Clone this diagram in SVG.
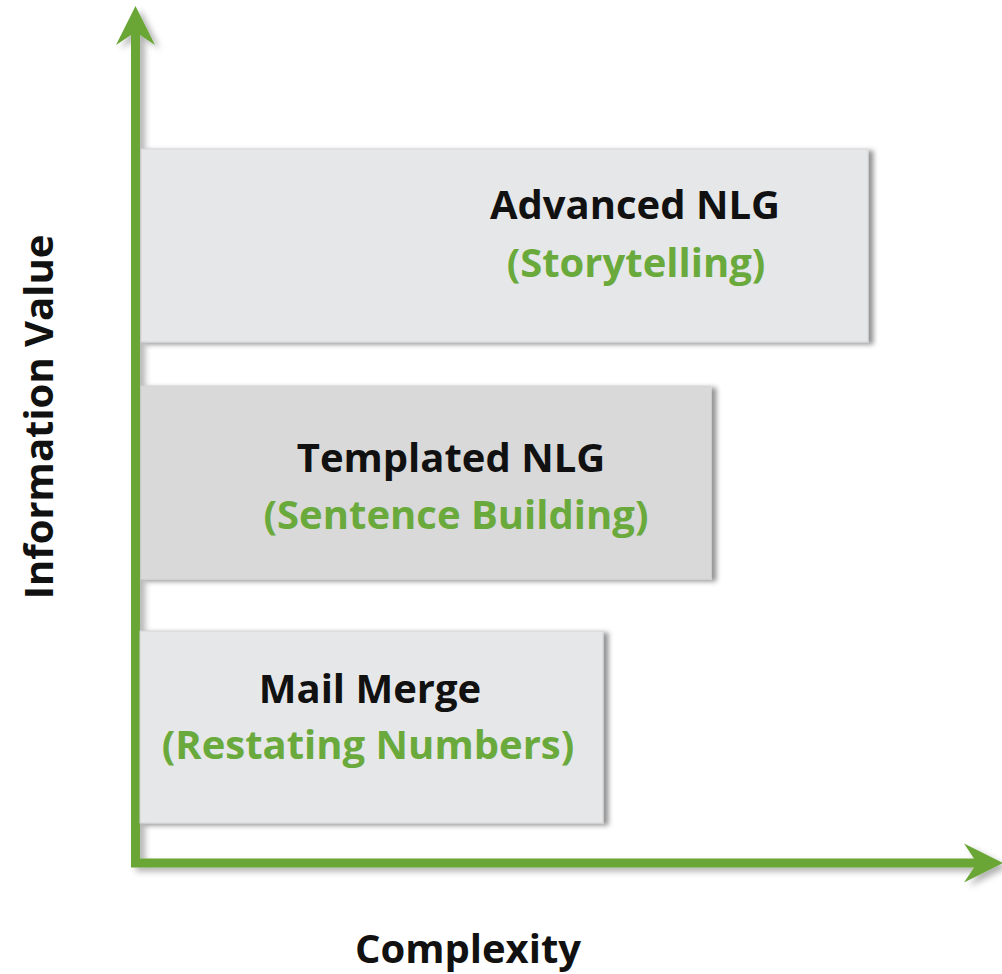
<svg xmlns="http://www.w3.org/2000/svg" width="1002" height="974" viewBox="0 0 1002 974">
  <defs>
    <style>
      .box { stroke: #d3d4d6; stroke-width: 1; }
      .light { fill: #e6e7e9; }
      .dark { fill: #d9d9d9; }
      .title { font-family: "Open Sans", "Liberation Sans", sans-serif; font-weight: 700; font-size: 40px; fill: #111111; text-anchor: middle; }
      .sub { font-family: "Open Sans", "Liberation Sans", sans-serif; font-weight: 700; font-size: 40px; fill: #6aaa3c; text-anchor: middle; }
      .axis { stroke: #6aa634; stroke-width: 9; fill: none; }
      .axis-label { font-family: "Open Sans", "Liberation Sans", sans-serif; font-weight: 700; font-size: 40px; fill: #111111; text-anchor: middle; }
    </style>
    <filter id="shadow" x="-10%" y="-10%" width="130%" height="130%">
      <feDropShadow dx="5" dy="2" stdDeviation="2.5" flood-color="#000000" flood-opacity="0.42"/>
    </filter>
    <filter id="axisShadow" x="-10%" y="-10%" width="130%" height="130%">
      <feDropShadow dx="5" dy="4" stdDeviation="3" flood-color="#000000" flood-opacity="0.3"/>
    </filter>
    <marker id="arrow" markerUnits="userSpaceOnUse" viewBox="0 -20 40 40" markerWidth="40" markerHeight="40" refX="13" refY="0" orient="auto">
      <path d="M0,-19.5 L39,0 L0,19.5 L13,0 Z" fill="#6aa634"/>
    </marker>
  </defs>

  <rect width="1002" height="974" fill="#ffffff"/>

  <!-- axes -->
  <g id="connectors" filter="url(#axisShadow)">
    <line class="axis" x1="135.5" y1="866" x2="135.5" y2="32" marker-end="url(#arrow)"/>
    <line class="axis" x1="131" y1="863" x2="977" y2="863" marker-end="url(#arrow)"/>
  </g>

  <!-- levels -->
  <g id="advanced-nlg">
    <rect class="box light" x="141" y="149" width="727" height="193" filter="url(#shadow)"/>
    <text class="title" x="635" y="219">Advanced NLG</text>
    <text class="sub" x="636" y="277">(Storytelling)</text>
  </g>

  <g id="templated-nlg">
    <rect class="box dark" x="141" y="386" width="570" height="193" filter="url(#shadow)"/>
    <text class="title" x="451" y="472">Templated NLG</text>
    <text class="sub" x="456" y="529">(Sentence Building)</text>
  </g>

  <g id="mail-merge">
    <rect class="box light" x="140" y="631" width="463" height="192" filter="url(#shadow)"/>
    <text class="title" x="370" y="703">Mail Merge</text>
    <text class="sub" x="368" y="759">(Restating Numbers)</text>
  </g>

  <!-- axis titles -->
  <g id="x-label">
    <text class="axis-label" x="468" y="963">Complexity</text>
  </g>
  <g id="y-label">
    <text class="axis-label" transform="translate(53,417) rotate(-90)">Information Value</text>
  </g>
</svg>
